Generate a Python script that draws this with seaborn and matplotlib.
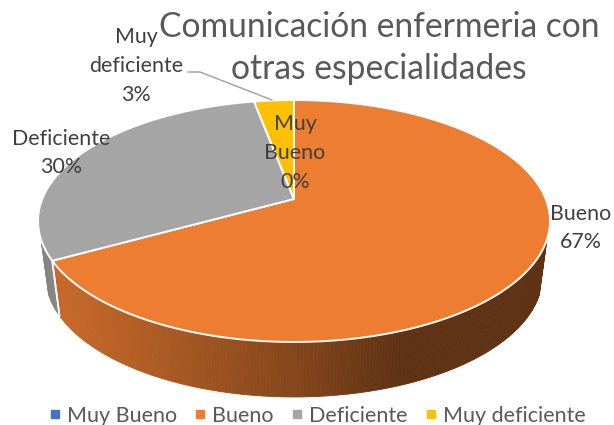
import numpy as np
import matplotlib
matplotlib.use("Agg")
import matplotlib.pyplot as plt
from matplotlib.lines import Line2D
from matplotlib.colors import to_rgb
import seaborn as sns

categories = ["Muy Bueno", "Bueno", "Deficiente", "Muy deficiente"]
values = [0, 67, 30, 3]
label_texts = ["Muy\nBueno\n0%", "Bueno\n67%", "Deficiente\n30%", "Muy\ndeficiente\n3%"]
title_text = "Comunicación enfermeria con\notras especialidades"
colors = ["#4472C4", "#ED7D31", "#A5A5A5", "#FFC000"]

sns.set_theme(style="white")
plt.rcParams["font.family"] = ["Lato", "DejaVu Sans"]

fig = plt.figure(figsize=(6.14, 4.25), dpi=100)
ax = fig.add_axes([0, 0, 1, 1])
ax.set_xlim(0, 614)
ax.set_ylim(425, 0)
ax.axis("off")

# Projection of the tilted pie (pixel geometry)
CX, R, Y0, A, C = 294.0, 251.7, 199.0, -80.8, 0.1818
DEPTH, SHRINK = 55.0, 0.97


def top(theta, r=1.0):
    u, v = r * np.sin(theta), r * np.cos(theta)
    d = 1 + C * v
    return CX + R * u / d, (A * v + Y0) / d


def low(theta):
    x, y = top(theta)
    return CX + (x - CX) * SHRINK, y + DEPTH


def mix(color, f):
    return tuple(np.array(to_rgb(color)) * f)


def side_shade(x, base):
    # darkness follows horizontal position
    f = np.interp(x, [40, 60, 150, 300, 400, 560], [0.70, 0.84, 0.74, 0.55, 0.40, 0.40])
    if base == "#A5A5A5":
        f = np.interp(x, [40, 60], [0.78, 0.85])
    return mix(base, f)


fractions = np.array(values, dtype=float) / sum(values)
edges = 2 * np.pi * np.concatenate([[0], np.cumsum(fractions)])
t_right = np.deg2rad(108.8)
t_left = 2 * np.pi - t_right

# Side wall
for i, col in enumerate(colors):
    a, b = max(edges[i], t_right), min(edges[i + 1], t_left)
    if b <= a:
        continue
    ts = np.linspace(a, b, int((b - a) * 90) + 2)
    for t0, t1 in zip(ts[:-1], ts[1:]):
        xa, ya = top(np.array([t0, t1]))
        xb, yb = low(np.array([t1, t0]))
        c = side_shade((xa.mean() + xb.mean()) / 2, col)
        ax.fill(np.r_[xa, xb], np.r_[ya, yb], color=c, lw=0.6, zorder=1)
    # white seam at the slice boundary
    for t in (a, b):
        if t in (t_right, t_left):
            continue
        xa, ya = top(t)
        xb, yb = low(t)
        ax.plot([xa, xb], [ya, yb], color="white", lw=1.2, zorder=2)

# Top face
for i, col in enumerate(colors):
    if values[i] == 0:
        continue
    ts = np.linspace(edges[i], edges[i + 1], 240)
    xs, ys = top(ts)
    ax.fill(np.r_[CX, xs], np.r_[Y0, ys], facecolor=col, edgecolor="white",
            lw=1.4, joinstyle="round", zorder=3)

# Labels
txt = "#404040"
fs = 15.4
ls = 1.55
ax.text(295, 153, label_texts[0], ha="center", va="center", fontsize=fs, color=txt, linespacing=ls, zorder=5)
ax.text(581, 228, label_texts[1], ha="center", va="center", fontsize=fs, color=txt, linespacing=ls, zorder=5)
ax.text(61, 153, label_texts[2], ha="center", va="center", fontsize=fs, color=txt, linespacing=ls, zorder=5)
ax.text(136, 66, label_texts[3], ha="center", va="center", fontsize=fs, color=txt, linespacing=ls, zorder=5)

ax.plot([188, 200, 272], [72, 72, 100], color="#A5A5A5", lw=1.1, zorder=4)

ax.text(379, 48, title_text, ha="center", va="center", fontsize=24.2, color="#595959",
        linespacing=1.41, zorder=5)

handles = [Line2D([], [], ls="", marker="s", ms=5.5, color=c) for c in colors]
ax.legend(handles, categories, loc="center", bbox_to_anchor=(315 / 614, 1 - 416 / 425), ncol=4,
          frameon=False, fontsize=15.5, labelcolor="#595959", handletextpad=0.05,
          columnspacing=0.6, handlelength=1.0, borderpad=0, borderaxespad=0)

fig.savefig("out.png", dpi=100)
